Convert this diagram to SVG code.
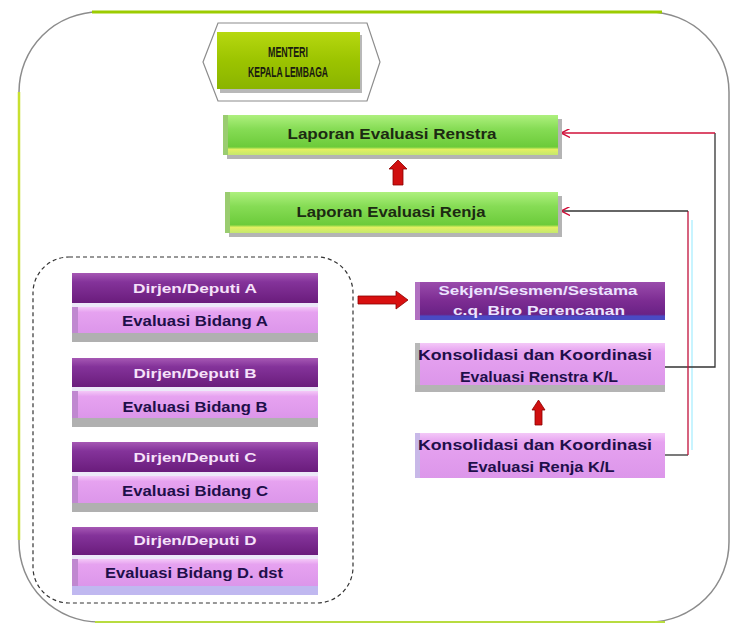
<svg xmlns="http://www.w3.org/2000/svg" width="731" height="625" viewBox="0 0 731 625">
<style>
text{font-family:"Liberation Sans",Arial,sans-serif;font-weight:bold;text-anchor:middle}
.tg{fill:#1c2a12;font-size:14px}
.tm{fill:#1a1a10;font-size:14px}
.th{fill:#f6e2fa;font-size:13px}
.tb{fill:#1e0f4a;font-size:14px}
.ts{fill:#ece4ff;font-size:13px}
.conn{fill:none;stroke-width:1.3}
</style>
<defs>
<linearGradient id="gGreen" x1="0" y1="0" x2="0" y2="1">
<stop offset="0" stop-color="#aef07e"/>
<stop offset="0.35" stop-color="#86dc55"/>
<stop offset="0.8" stop-color="#6ccb3a"/>
<stop offset="0.86" stop-color="#e4f062"/>
<stop offset="1" stop-color="#c4e86e"/>
</linearGradient>
<linearGradient id="gMent" x1="0" y1="0" x2="0" y2="1">
<stop offset="0" stop-color="#b6d810"/>
<stop offset="0.5" stop-color="#9cc400"/>
<stop offset="1" stop-color="#8ab400"/>
</linearGradient>
<linearGradient id="gHead" x1="0" y1="0" x2="0" y2="1">
<stop offset="0" stop-color="#a658b4"/>
<stop offset="0.3" stop-color="#84339a"/>
<stop offset="1" stop-color="#6a1c7c"/>
</linearGradient>
<linearGradient id="gBody" x1="0" y1="0" x2="0" y2="1">
<stop offset="0" stop-color="#f4c8f8"/>
<stop offset="0.2" stop-color="#e6a2f0"/>
<stop offset="1" stop-color="#dc96ea"/>
</linearGradient>
<linearGradient id="gSek" x1="0" y1="0" x2="0" y2="1">
<stop offset="0" stop-color="#9a4cac"/>
<stop offset="0.5" stop-color="#7c2c92"/>
<stop offset="0.85" stop-color="#6a2286"/>
<stop offset="0.9" stop-color="#4a4ac4"/>
<stop offset="1" stop-color="#4a4ac4"/>
</linearGradient>
<marker id="ah" viewBox="0 0 10 10" refX="9" refY="5" markerWidth="9" markerHeight="9" orient="auto" markerUnits="userSpaceOnUse">
<path d="M0,0 L10,5 L0,10" fill="none" stroke="#d0103a" stroke-width="1.6"/>
</marker>
</defs>

<rect width="731" height="625" fill="#ffffff"/>

<!-- outer frame -->
<g id="frame">
<rect x="19" y="12" width="710" height="610" rx="80" fill="#ffffff" stroke="#8c8c8c" stroke-width="1.5"/>
<line x1="92" y1="12" x2="662" y2="12" stroke="#9ccc00" stroke-width="3"/>
<line x1="19" y1="92" x2="19" y2="540" stroke="#c8e030" stroke-width="2.5"/>
<line x1="95" y1="622" x2="665" y2="622" stroke="#b8dc40" stroke-width="2"/>
</g>

<!-- connectors -->
<g id="connectors">
<line x1="692" y1="220" x2="692" y2="450" stroke="#c8f4ff" stroke-width="2"/>
<path class="conn" d="M665,367 H715 V133" stroke="#333333"/>
<path class="conn" d="M715,133 H562" stroke="#d0103a" marker-end="url(#ah)"/>
<path class="conn" d="M665,455 H688" stroke="#333333"/>
<path class="conn" d="M688,455 V211" stroke="#c0103a"/>
<path class="conn" d="M688,211 H562" stroke="#333333" marker-end="url(#ah)"/>
<!-- red block arrows -->
<path d="M393,185 V169 H389 L398,160 L407,169 H403 V185 Z" fill="#d01010" stroke="#8a0000" stroke-width="0.8"/>
<path d="M358,296 H396 V291 L408,300 L396,309 V304 H358 Z" fill="#d81010" stroke="#8a0000" stroke-width="0.8"/>
<path d="M535,425 V410 H532 L538.5,400 L545,410 H542 V425 Z" fill="#d01010" stroke="#8a0000" stroke-width="0.8"/>
</g>

<!-- Menteri -->
<g id="menteri">
<polygon points="203,62 218,23 367,23 380,62 367,101 218,101" fill="#ffffff" stroke="#8c8c8c" stroke-width="1.2"/>
<rect x="220" y="35" width="142" height="58" fill="#b8b8b8"/>
<rect x="217" y="32" width="143" height="57" fill="url(#gMent)"/>
<text class="tm" x="288" y="57" textLength="40" lengthAdjust="spacingAndGlyphs">MENTERI</text>
<text class="tm" x="288" y="77" textLength="80" lengthAdjust="spacingAndGlyphs">KEPALA LEMBAGA</text>
</g>

<!-- Laporan Renstra -->
<g id="lap-renstra">
<rect x="227" y="119" width="335" height="40" fill="#b4b4b4"/>
<rect x="223" y="115" width="335" height="40" fill="url(#gGreen)"/>
<rect x="223" y="115" width="5" height="40" fill="#9acc70"/>
<text class="tg" x="392" y="139" textLength="209" lengthAdjust="spacingAndGlyphs">Laporan Evaluasi Renstra</text>
</g>

<!-- Laporan Renja -->
<g id="lap-renja">
<rect x="229" y="196" width="333" height="41" fill="#b4b4b4"/>
<rect x="225" y="192" width="333" height="41" fill="url(#gGreen)"/>
<rect x="225" y="192" width="5" height="41" fill="#9acc70"/>
<text class="tg" x="391" y="217" textLength="189" lengthAdjust="spacingAndGlyphs">Laporan Evaluasi Renja</text>
</g>

<!-- dashed group box -->
<g id="dirjen-group">
<rect x="33" y="257" width="320" height="346" rx="36" fill="none" stroke="#333333" stroke-width="1.2" stroke-dasharray="4,3"/>
</g>

<!-- Dirjen A -->
<g id="dirjen-a">
<rect x="72" y="273" width="246" height="69" fill="#b0b0b0"/>
<rect x="72" y="273" width="246" height="30" fill="url(#gHead)"/>
<rect x="72" y="303" width="246" height="4" fill="#ece8f8"/>
<rect x="72" y="307" width="246" height="26" fill="url(#gBody)"/>
<rect x="72" y="307" width="6" height="26" fill="#c088d0"/>
<text class="th" x="195" y="293" textLength="124" lengthAdjust="spacingAndGlyphs">Dirjen/Deputi A</text>
<text class="tb" x="195" y="326" textLength="146" lengthAdjust="spacingAndGlyphs">Evaluasi Bidang A</text>
</g>

<!-- Dirjen B -->
<g id="dirjen-b">
<rect x="72" y="358" width="246" height="69" fill="#b0b0b0"/>
<rect x="72" y="358" width="246" height="29" fill="url(#gHead)"/>
<rect x="72" y="387" width="246" height="4" fill="#ece8f8"/>
<rect x="72" y="391" width="246" height="27" fill="url(#gBody)"/>
<rect x="72" y="391" width="6" height="27" fill="#c088d0"/>
<text class="th" x="195" y="378" textLength="123" lengthAdjust="spacingAndGlyphs">Dirjen/Deputi B</text>
<text class="tb" x="195" y="412" textLength="145" lengthAdjust="spacingAndGlyphs">Evaluasi Bidang B</text>
</g>

<!-- Dirjen C -->
<g id="dirjen-c">
<rect x="72" y="442" width="246" height="70" fill="#b0b0b0"/>
<rect x="72" y="442" width="246" height="30" fill="url(#gHead)"/>
<rect x="72" y="472" width="246" height="4" fill="#ece8f8"/>
<rect x="72" y="476" width="246" height="27" fill="url(#gBody)"/>
<rect x="72" y="476" width="6" height="27" fill="#c088d0"/>
<text class="th" x="195" y="462" textLength="123" lengthAdjust="spacingAndGlyphs">Dirjen/Deputi C</text>
<text class="tb" x="195" y="496" textLength="146" lengthAdjust="spacingAndGlyphs">Evaluasi Bidang C</text>
</g>

<!-- Dirjen D -->
<g id="dirjen-d">
<rect x="72" y="527" width="246" height="68" fill="#c0b8f0"/>
<rect x="72" y="527" width="246" height="28" fill="url(#gHead)"/>
<rect x="72" y="555" width="246" height="4" fill="#ece8f8"/>
<rect x="72" y="559" width="246" height="27" fill="url(#gBody)"/>
<rect x="72" y="559" width="6" height="27" fill="#c088d0"/>
<text class="th" x="195" y="545" textLength="123" lengthAdjust="spacingAndGlyphs">Dirjen/Deputi D</text>
<text class="tb" x="194" y="578" textLength="178" lengthAdjust="spacingAndGlyphs">Evaluasi Bidang D. dst</text>
</g>

<!-- Sekjen -->
<g id="sekjen">
<rect x="415" y="282" width="250" height="38" fill="url(#gSek)"/>
<rect x="415" y="282" width="5" height="38" fill="#b070c0"/>
<text class="ts" x="538" y="295" textLength="199" lengthAdjust="spacingAndGlyphs">Sekjen/Sesmen/Sestama</text>
<text class="ts" x="539" y="315" textLength="172" lengthAdjust="spacingAndGlyphs">c.q. Biro Perencanan</text>
</g>

<!-- Konsolidasi Renstra -->
<g id="kons-renstra">
<rect x="415" y="343" width="250" height="49" fill="#b4b4b4"/>
<rect x="415" y="343" width="250" height="42" fill="url(#gBody)"/>
<rect x="415" y="343" width="5" height="42" fill="#b8b8b8"/>
<text class="tb" x="535" y="360" textLength="234" lengthAdjust="spacingAndGlyphs">Konsolidasi dan Koordinasi</text>
<text class="tb" x="539" y="382" textLength="158" lengthAdjust="spacingAndGlyphs">Evaluasi Renstra K/L</text>
</g>

<!-- Konsolidasi Renja -->
<g id="kons-renja">
<rect x="415" y="433" width="250" height="45" fill="url(#gBody)"/>
<rect x="415" y="433" width="5" height="45" fill="#c8b8e8"/>
<text class="tb" x="535" y="450" textLength="234" lengthAdjust="spacingAndGlyphs">Konsolidasi dan Koordinasi</text>
<text class="tb" x="541" y="472" textLength="147" lengthAdjust="spacingAndGlyphs">Evaluasi Renja K/L</text>
</g>
</svg>
